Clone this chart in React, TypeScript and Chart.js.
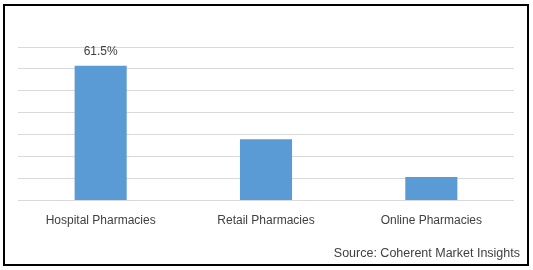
import React, { useEffect, useRef } from "react";
import { Chart, registerables } from "chart.js";

Chart.register(...registerables);

const categories = ["Hospital Pharmacies", "Retail Pharmacies", "Online Pharmacies"];
const shares = [61.5, 28.0, 10.7];
const shownLabels = ["61.5%", "", ""];
const sourceText = "Source: Coherent Market Insights";

const FONT = "'Liberation Sans', Arial, sans-serif";

const labelPlugin = {
  id: "barLabels",
  afterDatasetsDraw(chart: any) {
    const ctx = chart.ctx;
    const meta = chart.getDatasetMeta(0);
    ctx.save();
    ctx.font = `12px ${FONT}`;
    ctx.fillStyle = "#404040";
    ctx.textAlign = "center";
    ctx.textBaseline = "middle";
    meta.data.forEach((bar: any, i: number) => {
      const t = shownLabels[i];
      if (t) ctx.fillText(t, bar.x, bar.y - 14);
    });
    ctx.restore();
  },
};

export default function App() {
  const ref = useRef<HTMLCanvasElement | null>(null);

  useEffect(() => {
    if (!ref.current) return;
    const chart = new Chart(ref.current, {
      type: "bar",
      data: {
        labels: categories,
        datasets: [
          {
            data: shares,
            backgroundColor: "#5b9bd5",
            categoryPercentage: 1,
            barPercentage: 0.315,
          },
        ],
      },
      options: {
        animation: false,
        responsive: false,
        maintainAspectRatio: false,
        layout: { padding: { left: 18, right: 19, top: 47, bottom: 29 } },
        plugins: { legend: { display: false }, tooltip: { enabled: false } },
        scales: {
          x: {
            grid: { display: false, drawTicks: false },
            border: { display: false },
            ticks: { color: "#404040", font: { family: FONT, size: 12 }, padding: 13, maxRotation: 0 },
          },
          y: {
            min: 0,
            max: 70,
            ticks: { display: false, stepSize: 10 },
            grid: { color: "#d9d9d9", drawTicks: false, lineWidth: 1 },
            border: { display: false },
          },
        },
      },
      plugins: [labelPlugin],
    });
    return () => chart.destroy();
  }, []);

  return (
    <div style={{ position: "fixed", left: 0, top: 0, width: 533, height: 270, background: "#fff" }}>
      <canvas ref={ref} width={533} height={270} style={{ position: "absolute", left: 0, top: 0, width: 533, height: 270 }} />
      <div
        style={{
          position: "absolute",
          left: 3,
          top: 4,
          width: 526,
          height: 262,
          boxSizing: "border-box",
          border: "2px solid #000",
          pointerEvents: "none",
        }}
      />
      <div
        style={{
          position: "absolute",
          right: 13,
          top: 245,
          fontFamily: FONT,
          fontSize: 12.5,
          lineHeight: "16px",
          color: "#404040",
          whiteSpace: "nowrap",
        }}
      >
        {sourceText}
      </div>
    </div>
  );
}
